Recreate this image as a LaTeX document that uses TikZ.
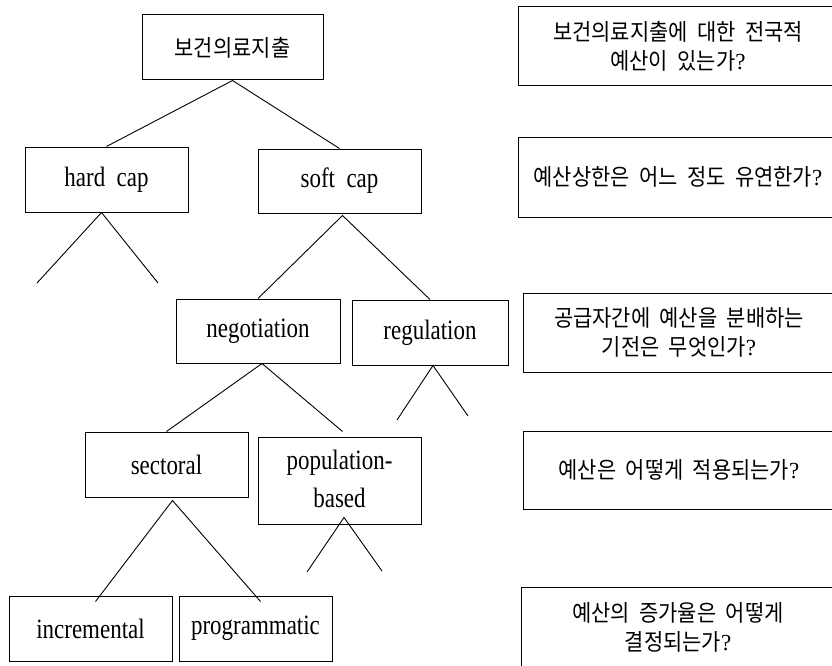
\documentclass[tikz,border=0pt]{standalone}
\usepackage{fontspec}
\setmainfont{Liberation Serif}
\newfontfamily\lat[FakeStretch=0.82]{Liberation Serif}
\newfontfamily\kr[WordSpace=2.0,FakeStretch=0.91]{Noto Sans CJK KR}
\usetikzlibrary{calc}
\begin{document}
\begin{tikzpicture}[x=1pt,y=-1pt,
  box/.style={draw, line width=1pt, rectangle, inner sep=0pt, align=center,
    font=\lat\fontsize{28}{36}\selectfont},
  krbox/.style={box, font=\kr\fontsize{23}{29}\selectfont},
  sz/.style 2 args={minimum width=#1pt, minimum height=#2pt},
  conn/.style={line width=0.9pt}]
\useasboundingbox (0,0) rectangle (832,666);
\clip (0,0) rectangle (832,666);
% tree
\node[krbox, sz={181}{65}] (root) at (232.5,47.5) {보건의료지출};
\node[box, sz={163}{65}] (hard) at (106.5,179.5) {hard\ \ cap};
\node[box, sz={163}{64}] (soft) at (339.5,181) {soft\ \ cap};
\node[box, sz={164}{64}] (nego) at (258,331) {negotiation};
\node[box, sz={156}{65}] (reg) at (430,332.5) {regulation};
\node[box, sz={163}{65}] (sect) at (166.5,464.5) {sectoral};
\node[box, sz={163}{87}, font=\lat\fontsize{28}{38}\selectfont] (pop) at (339.5,480.5)
  {\raisebox{-10pt}{\begin{tabular}{@{}c@{}}population-\\based\end{tabular}}};
\node[box, sz={163}{65}] (inc) at (90.5,628.5) {incremental};
\node[box, sz={153}{65}] (prog) at (255.5,628.5) {programmatic};
% questions
\node[krbox, sz={320}{79}] (q1) at (678,46.5) {보건의료지출에 대한 전국적\\예산이 있는가{\rmfamily ?}};
\node[krbox, sz={320}{80}] (q2) at (678,177) {예산상한은 어느 정도 유연한가{\rmfamily ?}};
\node[krbox, sz={312}{79}] (q3) at (679,332.5) {공급자간에 예산을 분배하는\\기전은 무엇인가{\rmfamily ?}};
\node[krbox, sz={312}{78}] (q4) at (679,470) {예산은 어떻게 적용되는가{\rmfamily ?}};
\node[krbox, sz={314}{81}] (q5) at (678,627.5) {예산의 증가율은 어떻게\\결정되는가{\rmfamily ?}};
% free ends
\coordinate (h1) at (37,283);
\coordinate (h2) at (158,283);
\coordinate (r1) at (397,420);
\coordinate (r2) at (468,416);
\coordinate (p1) at (307,572);
\coordinate (p2) at (382,571);
% connectors
\draw[conn] (hard.north) -- (root.south) -- (soft.north);
\draw[conn] (h1) -- ($(hard.south)+(-5,0)$) -- (h2);
\draw[conn] (nego.north) -- ($(soft.south)+(3,2)$) -- (reg.north);
\draw[conn] (r1) -- ($(reg.south)+(3,0)$) -- (r2);
\draw[conn] (sect.north) -- ($(nego.south)+(4,0)$) -- ($(pop.north)+(3,-5)$);
\draw[conn] ($(inc.north)+(5,6)$) -- ($(sect.south)+(6,3)$) -- ($(prog.north)+(5,6)$);
\draw[conn] (p1) -- ($(pop.south)+(4.5,-7)$) -- (p2);
\end{tikzpicture}
\end{document}
